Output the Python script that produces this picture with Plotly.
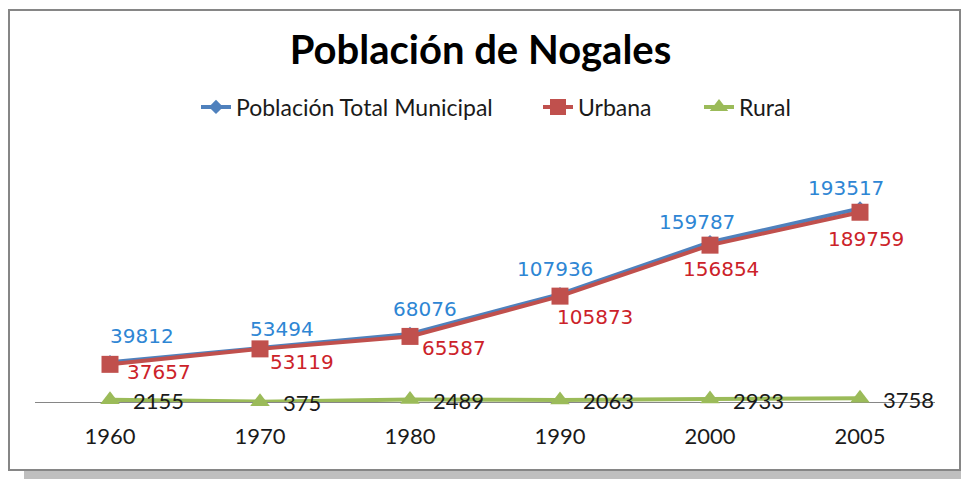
import plotly.graph_objects as go

years = ["1960", "1970", "1980", "1990", "2000", "2005"]
total = [39812, 53494, 68076, 107936, 159787, 193517]
urbana = [37657, 53119, 65587, 105873, 156854, 189759]
rural = [2155, 375, 2489, 2063, 2933, 3758]

# label offsets (pixels) relative to each point
total_dx = [32, 22, 15, -5, -13, -14]
total_dy = [26, 20, 25, 25, 20, 20]
urb_dx = [49, 42, 44, 35, 11, 6]
urb_dy = [-8, -13, -12, -21, -24, -27]

W, H = 961, 479
L, R, T, B = 35, 26, 182, 77
pw, ph = W - L - R, H - T - B

def px(x):
    return (x - L) / pw

def py(y):
    return (H - B - y) / ph

C_BLUE = "#4F81BD"
C_RED = "#C0504D"
C_GREEN = "#9BBB59"

fig = go.Figure()
fig.add_trace(go.Scatter(
    x=years, y=total, name="Población Total Municipal", mode="lines+markers",
    line=dict(color=C_BLUE, width=4),
    marker=dict(symbol="diamond", size=11, color=C_BLUE),
    cliponaxis=False, legend="legend"))
fig.add_trace(go.Scatter(
    x=years, y=urbana, name="Urbana", mode="lines+markers",
    line=dict(color=C_RED, width=4),
    marker=dict(symbol="square", size=17, color=C_RED),
    cliponaxis=False, legend="legend2"))
fig.add_trace(go.Scatter(
    x=years, y=rural, name="Rural", mode="lines+markers",
    line=dict(color=C_GREEN, width=4),
    marker=dict(symbol="triangle-up", size=17, color=C_GREEN),
    cliponaxis=False, legend="legend3"))

ann = []
for i, y in enumerate(years):
    ann.append(dict(x=i, y=total[i], text=str(total[i]), showarrow=False,
                    xshift=total_dx[i], yshift=total_dy[i],
                    font=dict(family="DejaVu Sans", size=20, color="#2E86D4")))
    ann.append(dict(x=i, y=urbana[i], text=str(urbana[i]), showarrow=False,
                    xshift=urb_dx[i], yshift=urb_dy[i],
                    font=dict(family="DejaVu Sans", size=20, color="#CC2229")))
    ann.append(dict(x=i, y=rural[i], text=str(rural[i]), showarrow=False,
                    xanchor="left", xshift=21, yshift=-1,
                    font=dict(family="Lato", size=22, color="#1a1a1a")))

shapes = [
    dict(type="rect", xref="paper", yref="paper",
         x0=px(24), x1=px(975), y0=py(479), y1=py(471),
         fillcolor="#BFBFBF", line=dict(width=0), layer="below"),
    dict(type="rect", xref="paper", yref="paper",
         x0=px(9), x1=px(960), y0=py(470), y1=py(10),
         fillcolor="white", line=dict(color="#868686", width=2), layer="below"),
]

leg_font = dict(family="Lato", size=23, color="#1a1a1a")
def legend_at(xpix):
    return dict(orientation="h", x=xpix / W, xanchor="left", xref="container",
                yref="container", y=1 - 107 / H, yanchor="middle",
                font=leg_font, bgcolor="rgba(0,0,0,0)")

fig.update_layout(
    width=W, height=H,
    margin=dict(l=L, r=R, t=T, b=B),
    paper_bgcolor="white", plot_bgcolor="rgba(0,0,0,0)",
    title=dict(text="<b>Población de Nogales</b>", x=0.5, xanchor="center",
               xref="container",
               y=1 - 50 / H, yanchor="middle", yref="container",
               font=dict(family="Lato", size=40, color="black")),
    legend=legend_at(196),
    legend2=legend_at(538),
    legend3=legend_at(699),
    xaxis=dict(type="category", range=[-0.5, 5.5], showgrid=False,
               showline=True, linecolor="#868686", linewidth=1,
               ticks="", ticklabelstandoff=15, layer="below traces",
               tickfont=dict(family="Lato", size=22, color="#1a1a1a"),
               zeroline=False, fixedrange=True),
    yaxis=dict(range=[0, 220000], visible=False, showgrid=False,
               zeroline=False, fixedrange=True),
    annotations=ann,
    shapes=shapes,
    showlegend=True,
)

fig.write_html("out.html", config={"displayModeBar": False},
               post_script="document.body.style.margin='0';document.body.style.overflow='hidden';")
